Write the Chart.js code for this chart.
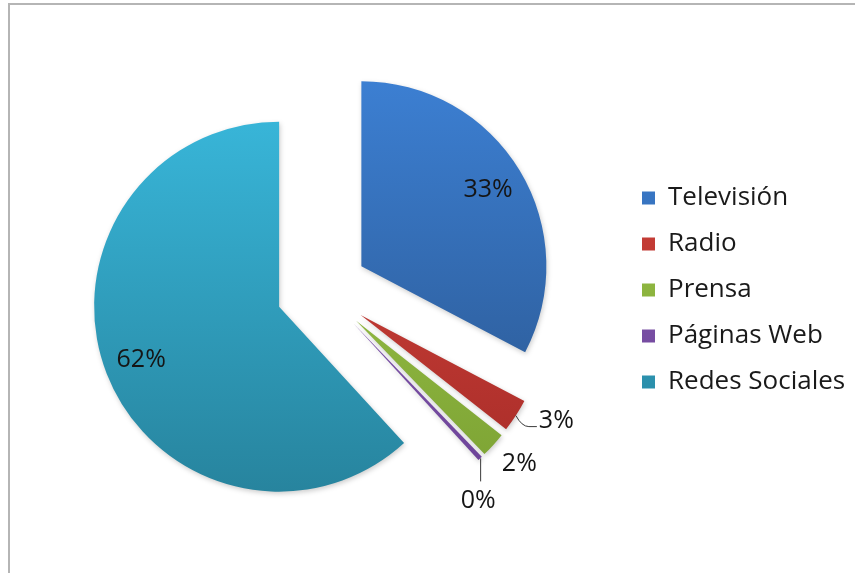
<!DOCTYPE html>
<html lang="es">
<head>
<meta charset="utf-8">
<title>Medios</title>
<script src="https://cdn.jsdelivr.net/npm/chart.js@4.4.1/dist/chart.umd.min.js"></script>
<style>
  html, body { margin: 0; padding: 0; background: #fff; }
  #grafico { display: block; }
</style>
</head>
<body>
<canvas id="grafico" width="855" height="573"></canvas>
<script>
const medios = ['Televisión', 'Radio', 'Prensa', 'Páginas Web', 'Redes Sociales'];
const valores = [32.7, 2.9, 2.2, 0.4, 61.8];

// degradado de cada porción: claro arriba, oscuro abajo
const coloresArriba = ['#3c7fd2', '#d4453d', '#a0c94c', '#8e64b8', '#38b5d8'];
const coloresAbajo = ['#2b5892', '#a62b27', '#7aa032', '#693f95', '#27849e'];

// donde va cada etiqueta de porcentaje
const posEtiqueta = ['dentro', 'guia', 'fuera', 'vertical', 'dentro'];

const radio = 185;
const separacion = 46;
const fuente = "'Open Sans', sans-serif";
const anchoLeyenda = 233;

const total = valores.reduce((a, b) => a + b, 0);

function Porcentaje(valor){
    return Math.round(valor / total * 100) + '%';
}

function Degradado(c){
    const chart = c.chart;
    const area = chart.chartArea;
    const i = c.dataIndex;
    if (!area) return coloresArriba[i];
    const centro = (area.top + area.bottom) / 2;
    const g = chart.ctx.createLinearGradient(0, centro - radio, 0, centro + radio);
    g.addColorStop(0, coloresArriba[i]);
    g.addColorStop(1, coloresAbajo[i]);
    return g;
}

//marco gris del grafico
const marco = {
  id: 'marco',
  beforeDraw(chart){
    const ctx = chart.ctx;
    ctx.save();
    ctx.fillStyle = '#fff';
    ctx.fillRect(0, 0, chart.width, chart.height);
    ctx.strokeStyle = '#b5b5b5';
    ctx.lineWidth = 2;
    ctx.beginPath();
    ctx.moveTo(9, chart.height);
    ctx.lineTo(9, 4);
    ctx.lineTo(chart.width, 4);
    ctx.stroke();
    ctx.restore();
  }
};

//ancho fijo para la leyenda de la derecha
const leyendaFija = {
  id: 'leyendaFija',
  beforeLayout(chart){
    const legend = chart.legend;
    if (!legend || legend._fijada) return;
    const fit = legend.fit;
    legend.fit = function(){
      fit.call(this);
      this.width = anchoLeyenda;
    };
    legend._fijada = true;
  }
};

//porciones separadas del centro
const explotar = {
  id: 'explotar',
  beforeDatasetDraw(chart, args){
    const ctx = chart.ctx;
    args.meta.data.forEach(arc => {
      const mid = (arc.startAngle + arc.endAngle) / 2;
      ctx.save();
      ctx.translate(Math.cos(mid) * separacion, Math.sin(mid) * separacion);
      ctx.shadowColor = 'rgba(0, 0, 0, 0.2)';
      ctx.shadowBlur = 5;
      ctx.shadowOffsetX = 1;
      ctx.shadowOffsetY = 2;
      arc.draw(ctx);
      ctx.restore();
    });
    return false;
  }
};

//etiquetas de porcentaje
const etiquetas = {
  id: 'etiquetas',
  afterDatasetsDraw(chart){
    const ctx = chart.ctx;
    const arcs = chart.getDatasetMeta(0).data;
    ctx.save();
    ctx.font = '25px ' + fuente;
    ctx.fillStyle = '#151515';
    ctx.strokeStyle = '#3a3a3a';
    ctx.lineWidth = 1;
    arcs.forEach((arc, i) => {
      const mid = (arc.startAngle + arc.endAngle) / 2;
      const dx = Math.cos(mid), dy = Math.sin(mid);
      const ax = arc.x + dx * separacion;
      const ay = arc.y + dy * separacion;
      const px = ax + dx * arc.outerRadius;
      const py = ay + dy * arc.outerRadius;
      const texto = Porcentaje(valores[i]);

      if (posEtiqueta[i] === 'dentro') {
        ctx.textAlign = 'center';
        ctx.textBaseline = 'middle';
        ctx.fillText(texto, ax + dx * arc.outerRadius * 0.8, ay + dy * arc.outerRadius * 0.8);
      } else if (posEtiqueta[i] === 'guia') {
        ctx.beginPath();
        ctx.moveTo(px, py);
        ctx.quadraticCurveTo(px + 6, py + 11, px + 13, py + 11);
        ctx.lineTo(px + 21, py + 11);
        ctx.stroke();
        ctx.textAlign = 'left';
        ctx.textBaseline = 'alphabetic';
        ctx.fillText(texto, px + 23, py + 12);
      } else if (posEtiqueta[i] === 'fuera') {
        ctx.textAlign = 'center';
        ctx.textBaseline = 'middle';
        ctx.fillText(texto, px + 26, py + 19);
      } else {
        ctx.beginPath();
        ctx.moveTo(px + 0.5, py);
        ctx.lineTo(px + 0.5, py + 23);
        ctx.stroke();
        ctx.textAlign = 'center';
        ctx.textBaseline = 'middle';
        ctx.fillText(texto, px - 2, py + 42);
      }
    });
    ctx.restore();
  }
};

const data = {
  labels: medios,
  datasets: [
    {
      data: valores,
      backgroundColor: Degradado,
      borderWidth: 0,
    },
  ]
};

const config = {
  type: 'pie',
  data: data,
  options: {
    responsive: false,
    animation: false,
    events: [],
    radius: radio,
    layout: {
      padding: { left: 22, right: 0, top: 20, bottom: 13 }
    },
    plugins: {
      legend: {
        position: 'right',
        labels: {
          boxWidth: 13,
          boxHeight: 13,
          padding: 20,
          color: '#1a1a1a',
          font: { family: fuente, size: 26 }
        }
      },
      tooltip: { enabled: false }
    }
  },
  plugins: [marco, leyendaFija, explotar, etiquetas]
};

window.addEventListener('DOMContentLoaded', () => {
  const ctx = document.getElementById('grafico').getContext('2d');
  new Chart(ctx, config);
});
</script>
</body>
</html>
